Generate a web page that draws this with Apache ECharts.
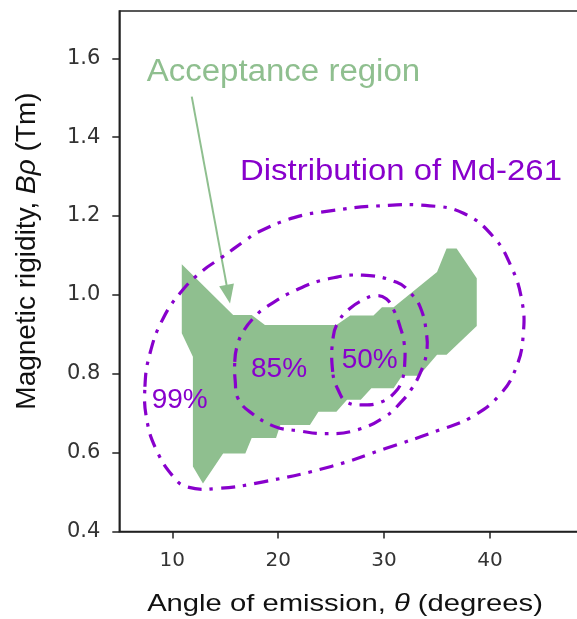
<!DOCTYPE html>
<html><head><meta charset="utf-8">
<script src="https://cdn.jsdelivr.net/npm/echarts@6/dist/echarts.min.js"></script>
<style>html,body{margin:0;padding:0;background:#fff}#chart{width:577px;height:619px}</style>
</head><body><div id="chart"></div>
<script>
// ---- data (theta in degrees, B-rho in Tm) ----
const thetaTicks = [10, 20, 30, 40];
const brhoTicks = [0.4, 0.6, 0.8, 1.0, 1.2, 1.4, 1.6];

const acceptanceRegion = [
  [10.9,1.078],[15.75,0.949],[17.5,0.949],[18.75,0.924],[25.5,0.924],[26.8,0.948],
  [29.0,0.948],[29.8,0.969],[30.9,0.969],[35.0,1.058],[35.9,1.118],[36.85,1.118],
  [38.75,1.042],[38.75,0.921],[35.9,0.848],[35.0,0.848],[33.3,0.795],[31.7,0.795],
  [30.9,0.763],[28.8,0.763],[27.8,0.734],[26.5,0.734],[25.5,0.704],[23.8,0.704],
  [23.0,0.670],[20.2,0.670],[19.8,0.637],[17.5,0.637],[16.9,0.598],[14.8,0.598],
  [12.9,0.522],[11.95,0.565],[11.95,0.843],[10.9,0.903]
];

const contour99 = [
  [7.42,0.767],[7.9,0.852],[9.15,0.941],[11.0,1.013],[12.9,1.062],[14.5,1.092],
  [17.0,1.14],[18.0,1.158],[21.5,1.196],[24.9,1.213],[29.6,1.226],[34.3,1.226],
  [37.5,1.207],[40.3,1.148],[42.0,1.072],[43.0,0.987],[43.15,0.903],[42.5,0.818],
  [40.9,0.746],[38.3,0.691],[35.3,0.658],[30.2,0.611],[25.0,0.565],[18.6,0.526],
  [14.2,0.509],[11.4,0.513],[10.1,0.539],[8.5,0.607],[7.6,0.683]
];
const contour85 = [
  [15.9,0.83],[16.1,0.868],[16.7,0.907],[17.8,0.945],[18.9,0.970],[21.75,1.013],
  [24.6,1.040],[28.0,1.050],[31.2,1.032],[32.45,1.006],[33.4,0.970],[34.0,0.903],
  [34.0,0.852],[33.4,0.801],[32.5,0.758],[31.6,0.728],[30.2,0.693],[27.5,0.658],
  [24.6,0.648],[21.75,0.656],[19.7,0.666],[17.3,0.704],[16.2,0.738],[15.95,0.78]
];
const contour50 = [
  [25.15,0.805],[25.2,0.894],[25.8,0.937],[26.8,0.966],[28.0,0.987],[29.2,0.998],
  [30.2,0.99],[30.9,0.962],[31.5,0.920],[31.9,0.877],[31.95,0.827],[31.7,0.784],
  [31.0,0.752],[29.7,0.728],[28.1,0.721],[26.5,0.728],[25.7,0.757]
];
const contourLabels = ['99%', '85%', '50%'];
const arrowLine = [[11.84, 1.503], [15.29, 1.002]];

// ---- styles ----
const GREEN = '#8fbf8f';
const PURPLE = '#8800cc';
const SANS = '"Liberation Sans", Arial, sans-serif';
const TICKFONT = '"DejaVu Sans", sans-serif';

function polygonSeries(points, styleFn, z) {
  return {
    type: 'custom',
    coordinateSystem: 'cartesian2d',
    data: points,
    z: z,
    silent: true,
    renderItem: function (params, api) {
      if (params.dataIndex !== 0) return;
      const pts = points.map(p => api.coord(p));
      return styleFn(pts);
    }
  };
}

const chart = echarts.init(document.getElementById('chart'), null, {renderer: 'canvas'});

const acceptSeries = polygonSeries(acceptanceRegion, pts => ({
  type: 'polygon', shape: {points: pts}, style: {fill: GREEN, stroke: 'none'}
}), 2);
acceptSeries.markLine = {
  silent: true, animation: false,
  symbol: ['none', 'triangle'], symbolSize: [15, 19],
  lineStyle: {color: GREEN, width: 2, type: 'solid'},
  itemStyle: {color: GREEN},
  label: {show: false},
  data: [[{coord: arrowLine[0]}, {coord: arrowLine[1]}]]
};

function contourSeries(pts0) {
  return polygonSeries(pts0, pts => ({
    type: 'polygon', shape: {points: pts, smooth: 0.45},
    style: {fill: 'none', stroke: PURPLE, lineWidth: 3.2, lineDash: [14, 8, 3.5, 8]}
  }), 5);
}

const option = {
  animation: false,
  backgroundColor: '#fff',
  grid: {left: 119.3, right: -18.9, top: 11, bottom: 87.5, show: true,
         borderColor: '#222', borderWidth: 1.5, containLabel: false, outerBoundsMode: 'none'},
  xAxis: {
    type: 'value', min: 5, max: 50,
    axisLine: {show: true, lineStyle: {color: '#222', width: 1.5}},
    axisTick: {show: true, length: 7, customValues: thetaTicks, lineStyle: {color: '#222', width: 1.5}},
    axisLabel: {customValues: thetaTicks, fontFamily: TICKFONT, fontSize: 20, color: '#333', margin: 19},
    splitLine: {show: false}
  },
  yAxis: {
    type: 'value', min: 0.4, max: 1.72,
    axisLine: {show: true, lineStyle: {color: '#222', width: 1.5}},
    axisTick: {show: true, length: 7, customValues: brhoTicks, lineStyle: {color: '#222', width: 1.5}},
    axisLabel: {customValues: brhoTicks, fontFamily: TICKFONT, fontSize: 21, color: '#333', margin: 19,
                formatter: v => Number(v).toFixed(1)},
    splitLine: {show: false}
  },
  series: [
    acceptSeries,
    contourSeries(contour99),
    contourSeries(contour85),
    contourSeries(contour50)
  ],
  graphic: [
    {type: 'text', x: 146.7, y: 72.7, scaleX: 1.065, z: 100, silent: true,
     style: {text: 'Acceptance region', fill: GREEN, fontSize: 31, fontFamily: SANS, align: 'left', verticalAlign: 'middle'}},
    {type: 'text', x: 240, y: 171.4, scaleX: 1.097, z: 100, silent: true,
     style: {text: 'Distribution of Md-261', fill: PURPLE, fontSize: 30, fontFamily: SANS, align: 'left', verticalAlign: 'middle'}},
    {type: 'text', x: 151.7, y: 400.6, z: 100, silent: true,
     style: {text: contourLabels[0], fill: PURPLE, fontSize: 28, fontFamily: SANS, align: 'left', verticalAlign: 'middle'}},
    {type: 'text', x: 251, y: 369, z: 100, silent: true,
     style: {text: contourLabels[1], fill: PURPLE, fontSize: 28, fontFamily: SANS, align: 'left', verticalAlign: 'middle'}},
    {type: 'text', x: 341.7, y: 360.6, z: 100, silent: true,
     style: {text: contourLabels[2], fill: PURPLE, fontSize: 28, fontFamily: SANS, align: 'left', verticalAlign: 'middle'}},
    {type: 'text', x: 345, y: 604.3, scaleX: 1.217, z: 100, silent: true,
     style: {text: 'Angle of emission, {i|θ} (degrees)', fill: '#111', fontSize: 24, fontFamily: SANS,
             align: 'center', verticalAlign: 'middle',
             rich: {i: {fontStyle: 'italic', fontSize: 24, fontFamily: SANS, fill: '#111'}}}},
    {type: 'text', x: 27, y: 251, rotation: Math.PI / 2, z: 100, silent: true,
     style: {text: 'Magnetic rigidity, {i|Bρ} (Tm)', fill: '#111', fontSize: 28, fontFamily: SANS,
             align: 'center', verticalAlign: 'middle',
             rich: {i: {fontStyle: 'italic', fontSize: 28, fontFamily: SANS, fill: '#111'}}}}
  ]
};
chart.setOption(option);
</script>
</body></html>
